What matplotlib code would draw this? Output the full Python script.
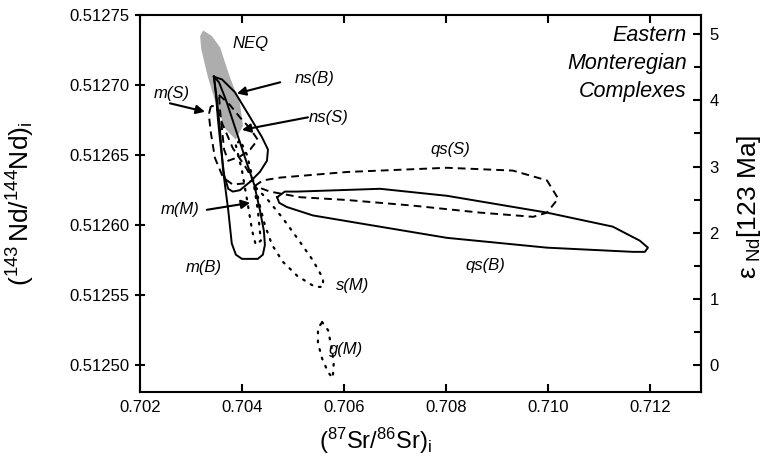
import numpy as np
import matplotlib; matplotlib.use("Agg")
import matplotlib.pyplot as plt
from matplotlib.ticker import FormatStrFormatter, MultipleLocator

# ---- field outlines: x = (87Sr/86Sr)i, y = (143Nd/144Nd)i ----
neq_x = [0.70324, 0.70341, 0.70357, 0.70376, 0.70396, 0.70402, 0.70388, 0.70367, 0.70347, 0.70333, 0.70320, 0.70318]
neq_y = [0.512739, 0.512735, 0.512727, 0.512706, 0.512687, 0.512671, 0.512661, 0.512669, 0.512689, 0.512706, 0.512726, 0.512735]

mB_x = [0.70345, 0.70351, 0.70357, 0.70363, 0.70373, 0.70380, 0.70388, 0.70400, 0.70431, 0.70441, 0.70445, 0.70443,
        0.70435, 0.70424, 0.70408, 0.70388, 0.70369, 0.70355]
mB_y = [0.512706, 0.512689, 0.512668, 0.512639, 0.512611, 0.512587, 0.512579, 0.512576, 0.512576, 0.512579, 0.512586,
        0.512596, 0.512611, 0.512629, 0.512646, 0.512668, 0.512689, 0.512702]

nsB_x = [0.70345, 0.70361, 0.70386, 0.70416, 0.70439, 0.70451, 0.70449, 0.70435, 0.70416, 0.70396, 0.70382, 0.70373,
         0.70365, 0.70359, 0.70353, 0.70349]
nsB_y = [0.512706, 0.512704, 0.512695, 0.512677, 0.512663, 0.512654, 0.512646, 0.512638, 0.512631, 0.512625, 0.512624,
         0.512626, 0.512636, 0.512654, 0.512675, 0.512693]

nsS_x = [0.70355, 0.70376, 0.70396, 0.70416, 0.70431, 0.70416, 0.70396, 0.70373, 0.70365, 0.70361, 0.70357]
nsS_y = [0.512693, 0.512686, 0.512677, 0.512669, 0.512661, 0.512654, 0.512649, 0.512646, 0.512654, 0.512668, 0.512682]

mS_x = [0.70339, 0.70335, 0.70339, 0.70347, 0.70363, 0.70382, 0.70408, 0.70422, 0.70408, 0.70382, 0.70361, 0.70349]
mS_y = [0.512685, 0.512679, 0.512666, 0.512648, 0.512634, 0.512629, 0.512630, 0.512632, 0.512641, 0.512655, 0.512673, 0.512685]

qsS_x = [0.70425, 0.70441, 0.70475, 0.70606, 0.70802, 0.70931, 0.70998, 0.71020, 0.70998, 0.70971, 0.70867, 0.70735,
         0.70606, 0.70514, 0.70455]
qsS_y = [0.512628, 0.512632, 0.512634, 0.512638, 0.512641, 0.512639, 0.512632, 0.512619, 0.512609, 0.512606, 0.512609,
         0.512614, 0.512618, 0.512620, 0.512624]

qsB_x = [0.70469, 0.70484, 0.70508, 0.70671, 0.70802, 0.70998, 0.71127, 0.71180, 0.71196, 0.71190, 0.71167, 0.70998,
         0.70802, 0.70637, 0.70539, 0.70488, 0.70473]
qsB_y = [0.512620, 0.512624, 0.512624, 0.512626, 0.512621, 0.512609, 0.512599, 0.512589, 0.512584, 0.512581, 0.512581,
         0.512584, 0.512591, 0.512601, 0.512607, 0.512613, 0.512616]

mM_x = [0.70388, 0.70400, 0.70410, 0.70420, 0.70427, 0.70437, 0.70431, 0.70422, 0.70410, 0.70396]
mM_y = [0.512657, 0.512639, 0.512618, 0.512596, 0.512586, 0.512589, 0.512611, 0.512632, 0.512650, 0.512661]

sM_x = [0.70427, 0.70451, 0.70480, 0.70508, 0.70539, 0.70559, 0.70559, 0.70543, 0.70508, 0.70480, 0.70459, 0.70445, 0.70435]
sM_y = [0.512627, 0.512618, 0.512605, 0.512591, 0.512575, 0.512562, 0.512556, 0.512556, 0.512564, 0.512574, 0.512586,
        0.512600, 0.512614]

gM_x = [0.70557, 0.70569, 0.70575, 0.70580, 0.70578, 0.70569, 0.70557, 0.70549, 0.70549]
gM_y = [0.512531, 0.512525, 0.512514, 0.512502, 0.512491, 0.512495, 0.512505, 0.512516, 0.512526]

# field labels (centre) and arrows (tail -> tip)
lab_txt = ["NEQ", "ns(B)", "m(S)", "ns(S)", "qs(S)", "m(M)", "m(B)", "s(M)", "qs(B)", "g(M)"]
lab_x = [0.70416, 0.70543, 0.70263, 0.70569, 0.70808, 0.70278, 0.70325, 0.70616, 0.70877, 0.70604]
lab_y = [0.512730, 0.512705, 0.512694, 0.512677, 0.512654, 0.512611, 0.512570, 0.512557, 0.512571, 0.512511]
arr_tail = [(0.702588, 0.512687), (0.70475, 0.512702), (0.705294, 0.512677), (0.70331, 0.512611)]
arr_tip = [(0.703275, 0.512681), (0.70390, 0.512694), (0.70400, 0.512668), (0.70416, 0.512616)]

EPS0, EPS_UNIT = 0.51250, 4.73e-5   # right-hand eNd scale as drawn on the original

plt.rcParams.update({"font.family": "Liberation Sans", "mathtext.fontset": "custom",
                     "mathtext.rm": "Liberation Sans", "mathtext.it": "Liberation Sans:italic",
                     "axes.linewidth": 1.5})

fig = plt.figure(figsize=(7.72, 4.62), dpi=100, facecolor="white")
ax = fig.add_axes([0.1813, 0.1515, 0.7267, 0.8160])

def closed(x, y):
    return list(x) + [x[0]], list(y) + [y[0]]

ax.fill(neq_x, neq_y, color="0.68", lw=0, zorder=1)
solid = dict(color="k", lw=1.4, solid_joinstyle="round", zorder=3)
dash = dict(color="k", lw=1.4, ls=(0, (4, 2.6)), zorder=3)
dot = dict(color="k", lw=1.6, ls=(0, (0.8, 3.2)), dash_capstyle="round", zorder=3)
for xs, ys in [(mB_x, mB_y), (nsB_x, nsB_y), (qsB_x, qsB_y)]:
    ax.plot(*closed(xs, ys), **solid)
for xs, ys in [(nsS_x, nsS_y), (mS_x, mS_y), (qsS_x, qsS_y)]:
    ax.plot(*closed(xs, ys), **dash)
for xs, ys in [(mM_x, mM_y), (sM_x, sM_y), (gM_x, gM_y)]:
    ax.plot(*closed(xs, ys), **dot)

for t, x, y in zip(lab_txt, lab_x, lab_y):
    ax.text(x, y, t, style="italic", fontsize=12, ha="center", va="center", zorder=4)
for a, b in zip(arr_tail, arr_tip):
    ax.annotate("", xy=b, xytext=a, zorder=4,
                arrowprops=dict(arrowstyle="-|>", color="k", lw=1.5, mutation_scale=13, shrinkA=0, shrinkB=0))

ax.text(0.71272, 0.512743, "Eastern\nMonteregian\nComplexes", style="italic", fontsize=15.5,
        ha="right", va="top", linespacing=1.45)

ax.set_xlim(0.702, 0.713)
ax.set_ylim(0.512481, 0.51275)
ax.xaxis.set_major_locator(MultipleLocator(0.002))
ax.xaxis.set_major_formatter(FormatStrFormatter("%.3f"))
ax.yaxis.set_major_locator(MultipleLocator(0.00005))
ax.yaxis.set_major_formatter(FormatStrFormatter("%.5f"))
ax.tick_params(axis="x", direction="in", top=True, length=6, width=1.5, labelsize=12, pad=6)
ax.tick_params(axis="y", direction="inout", right=False, length=7, width=1.5, labelsize=12, pad=4)

sec = ax.secondary_yaxis("right", functions=(lambda v: (v - EPS0) / EPS_UNIT, lambda e: e * EPS_UNIT + EPS0))
sec.yaxis.set_major_locator(MultipleLocator(1))
sec.yaxis.set_minor_locator(MultipleLocator(0.5))
sec.tick_params(which="both", direction="in", width=1.5, labelsize=12, pad=6)
sec.tick_params(which="major", length=6)
sec.tick_params(which="minor", length=5)
sec.spines["right"].set_linewidth(1.5)

ax.set_xlabel(r"$\mathregular{(^{87}Sr/^{86}Sr)_{i}}$", fontsize=17, labelpad=2)
ax.xaxis.set_label_coords(0.42, -0.09)
ax.set_ylabel(r"$\mathregular{(^{143}\,Nd/^{144}Nd)_{i}}$", fontsize=19)
ax.yaxis.set_label_coords(-0.183, 0.5)
sec.set_ylabel(r"$\mathregular{\epsilon_{\ Nd}}$[123 Ma]", fontsize=19, rotation=90)
sec.yaxis.set_label_coords(1.06, 0.49, transform=ax.transAxes)

fig.savefig("out.png", dpi=100, facecolor="white")
